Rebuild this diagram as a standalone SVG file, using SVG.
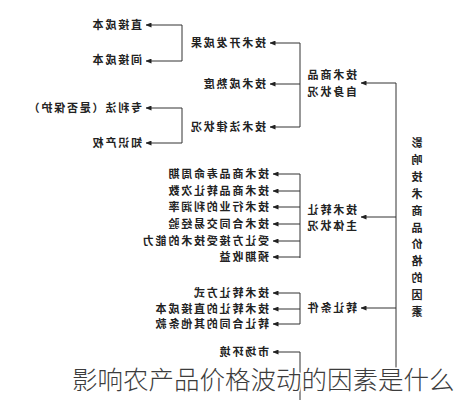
<svg xmlns="http://www.w3.org/2000/svg" width="457" height="400" viewBox="0 0 457 400">
<defs>
<marker id="ah" markerWidth="6" markerHeight="5" refX="5.5" refY="2.5" orient="auto" markerUnits="userSpaceOnUse">
<path d="M0,0 L6,2.5 L0,5 Z" fill="#222"/>
</marker>
<style>
.t{font-family:"Noto Sans CJK SC","Noto Sans",sans-serif;font-size:11px;font-weight:700;fill:#222;letter-spacing:1.8px}
.v{font-family:"Noto Sans CJK SC","Noto Sans",sans-serif;font-size:11px;font-weight:700;fill:#222;text-anchor:middle}
.ln{fill:none;stroke:#333;stroke-width:1}
.ar{fill:none;stroke:#333;stroke-width:1;marker-end:url(#ah)}
.cap{font-family:"Noto Sans CJK SC",sans-serif;font-size:25.5px;font-weight:300;fill:#3c3c3c;stroke:#fff;stroke-width:3;paint-order:stroke;stroke-linejoin:round}
</style>
</defs>
<rect width="457" height="400" fill="#fff"/>
<g id="connectors">
<path class="ln" d="M182,25 V61 M182,108 V143 M300,43 V127 M300,174 V258 M300,293 V324 M300,352 V400 M396,83 V372"/>
<path class="ar" d="M182,25 H146"/>
<path class="ar" d="M182,61 H146"/>
<path class="ar" d="M182,108 H146"/>
<path class="ar" d="M182,143 H146"/>
<path class="ar" d="M300,43 H270"/>
<path class="ar" d="M300,84 H270"/>
<path class="ar" d="M300,127 H270"/>
<path class="ar" d="M300,174 H273"/>
<path class="ar" d="M300,191 H273"/>
<path class="ar" d="M300,207 H273"/>
<path class="ar" d="M300,224 H273"/>
<path class="ar" d="M300,241 H273"/>
<path class="ar" d="M300,257 H273"/>
<path class="ar" d="M300,293 H273"/>
<path class="ar" d="M300,309 H273"/>
<path class="ar" d="M300,324 H273"/>
<path class="ar" d="M300,352 H273"/>
<path class="ar" d="M396,83 H361"/>
<path class="ar" d="M396,217 H361"/>
<path class="ar" d="M396,308 H361"/>
</g>
<g id="n-root">
<text class="v" transform="scale(-1,1)" x="-417" y="147">影</text>
<text class="v" transform="scale(-1,1)" x="-417" y="164">响</text>
<text class="v" transform="scale(-1,1)" x="-417" y="181">技</text>
<text class="v" transform="scale(-1,1)" x="-417" y="198">术</text>
<text class="v" transform="scale(-1,1)" x="-417" y="215">商</text>
<text class="v" transform="scale(-1,1)" x="-417" y="232">品</text>
<text class="v" transform="scale(-1,1)" x="-417" y="248">价</text>
<text class="v" transform="scale(-1,1)" x="-417" y="265">格</text>
<text class="v" transform="scale(-1,1)" x="-417" y="282">的</text>
<text class="v" transform="scale(-1,1)" x="-417" y="299">因</text>
<text class="v" transform="scale(-1,1)" x="-417" y="316">素</text>
</g>
<g id="n-self"><text class="t" transform="scale(-1,1)" x="-357" y="79">技术商品</text><text class="t" transform="scale(-1,1)" x="-357" y="96">自身状况</text></g>
<g id="n-subject"><text class="t" transform="scale(-1,1)" x="-357" y="214">技术转让</text><text class="t" transform="scale(-1,1)" x="-357" y="230">主体状况</text></g>
<g id="n-cond"><text class="t" transform="scale(-1,1)" x="-357" y="312">转让条件</text></g>
<g id="n-dev"><text class="t" transform="scale(-1,1)" x="-266" y="47">技术开发成果</text></g>
<g id="n-mature"><text class="t" transform="scale(-1,1)" x="-266" y="88">技术成熟度</text></g>
<g id="n-legal"><text class="t" transform="scale(-1,1)" x="-266" y="131">技术法律状况</text></g>
<g id="n-direct"><text class="t" transform="scale(-1,1)" x="-142" y="29">直接成本</text></g>
<g id="n-indirect"><text class="t" transform="scale(-1,1)" x="-142" y="64">间接成本</text></g>
<g id="n-patent"><text class="t" transform="scale(-1,1)" x="-142" y="112">专利法（是否保护）</text></g>
<g id="n-ip"><text class="t" transform="scale(-1,1)" x="-142" y="147">知识产权</text></g>
<g id="n-m1"><text class="t" transform="scale(-1,1)" x="-269" y="178">技术商品寿命周期</text></g>
<g id="n-m2"><text class="t" transform="scale(-1,1)" x="-269" y="195">技术商品转让次数</text></g>
<g id="n-m3"><text class="t" transform="scale(-1,1)" x="-269" y="211">技术行业的利润率</text></g>
<g id="n-m4"><text class="t" transform="scale(-1,1)" x="-269" y="228">技术合同交易经验</text></g>
<g id="n-m5"><text class="t" transform="scale(-1,1)" x="-269" y="245">受让方接受技术的能力</text></g>
<g id="n-m6"><text class="t" transform="scale(-1,1)" x="-269" y="261">预期收益</text></g>
<g id="n-c1"><text class="t" transform="scale(-1,1)" x="-269" y="297">技术转让方式</text></g>
<g id="n-c2"><text class="t" transform="scale(-1,1)" x="-269" y="313">技术转让的直接成本</text></g>
<g id="n-c3"><text class="t" transform="scale(-1,1)" x="-269" y="328">转让合同的其他条款</text></g>
<g id="n-market"><text class="t" transform="scale(-1,1)" x="-269" y="356">市场环境</text></g>
<g id="caption"><text class="cap" x="72" y="389">影响农产品价格波动的因素是什么</text></g>
</svg>
